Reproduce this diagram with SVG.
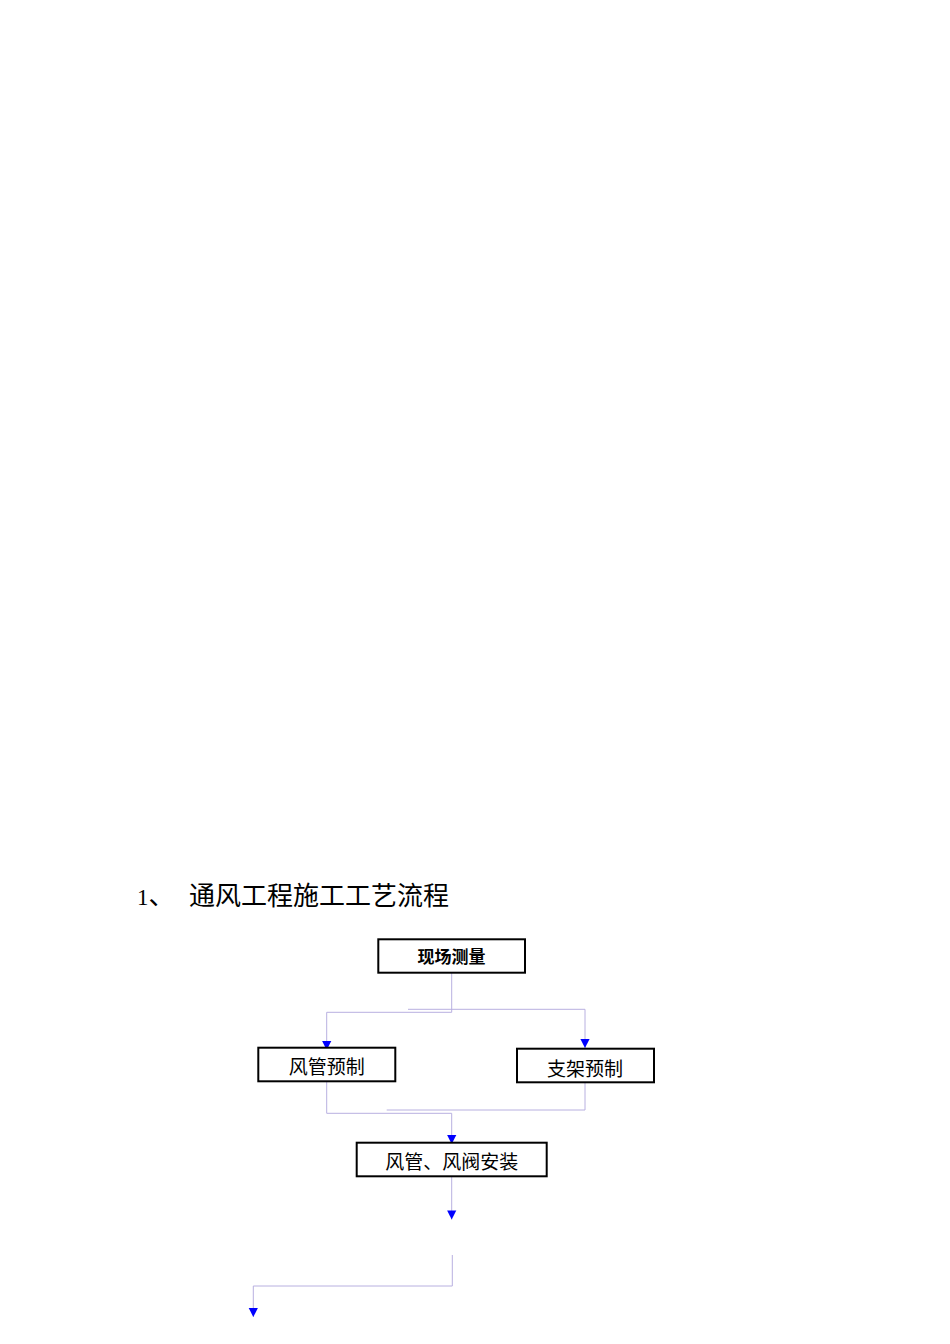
<svg xmlns="http://www.w3.org/2000/svg" width="950" height="1344" viewBox="0 0 950 1344">
<style>
.box{fill:#fff;stroke:#000;stroke-width:2}
.lbl{font-family:"Noto Sans CJK SC","Noto Sans",sans-serif;font-size:19px;fill:#000;text-anchor:middle}
.conn{fill:none;stroke:#b8b0e0;stroke-width:1}
.title{font-size:26px;fill:#000}
</style>
<defs>
<marker id="arr" markerUnits="userSpaceOnUse" markerWidth="10" markerHeight="10" viewBox="0 -5 9 10" refX="9" refY="0" orient="auto">
<path d="M0,-4.6 L9,0 L0,4.6 z" fill="#0000ff"/>
</marker>
</defs>
<rect width="950" height="1344" fill="#fff"/>
<text class="title" y="905"><tspan x="137" font-family="Liberation Serif,serif" font-size="23">1</tspan><tspan font-family="Noto Sans CJK SC,sans-serif">、</tspan><tspan x="189" font-family="Noto Sans CJK SC,sans-serif">通风工程施工工艺流程</tspan></text>
<g id="connectors">
<path class="conn" d="M451.7,972.7 V1012.3 H326.7 V1050" marker-end="url(#arr)"/>
<path class="conn" d="M408,1009.3 H585 V1048" marker-end="url(#arr)"/>
<path class="conn" d="M326.7,1081.3 V1113.3 H451.7 V1144" marker-end="url(#arr)"/>
<path class="conn" d="M585,1082.7 V1110 H386.7"/>
<path class="conn" d="M451.7,1176.7 V1219.5" marker-end="url(#arr)"/>
<path class="conn" d="M452.3,1255 V1286 H253.3 V1317" marker-end="url(#arr)"/>
</g>
<g id="node-xianchangceliang">
<rect class="box" x="378.3" y="939.3" width="146.7" height="33.4"/>
<text class="lbl" x="451.5" y="963" style="font-size:17px;font-weight:bold">现场测量</text>
</g>
<g id="node-fengguanyuzhi">
<rect class="box" x="258.3" y="1047.7" width="137" height="33.6"/>
<text class="lbl" x="326.7" y="1074">风管预制</text>
</g>
<g id="node-zhijiayuzhi">
<rect class="box" x="517" y="1048.7" width="137" height="33.6"/>
<text class="lbl" x="585" y="1075.5">支架预制</text>
</g>
<g id="node-anzhuang">
<rect class="box" x="356.7" y="1142.7" width="190" height="33.6"/>
<text class="lbl" x="451.7" y="1168.5">风管、风阀安装</text>
</g>
</svg>
